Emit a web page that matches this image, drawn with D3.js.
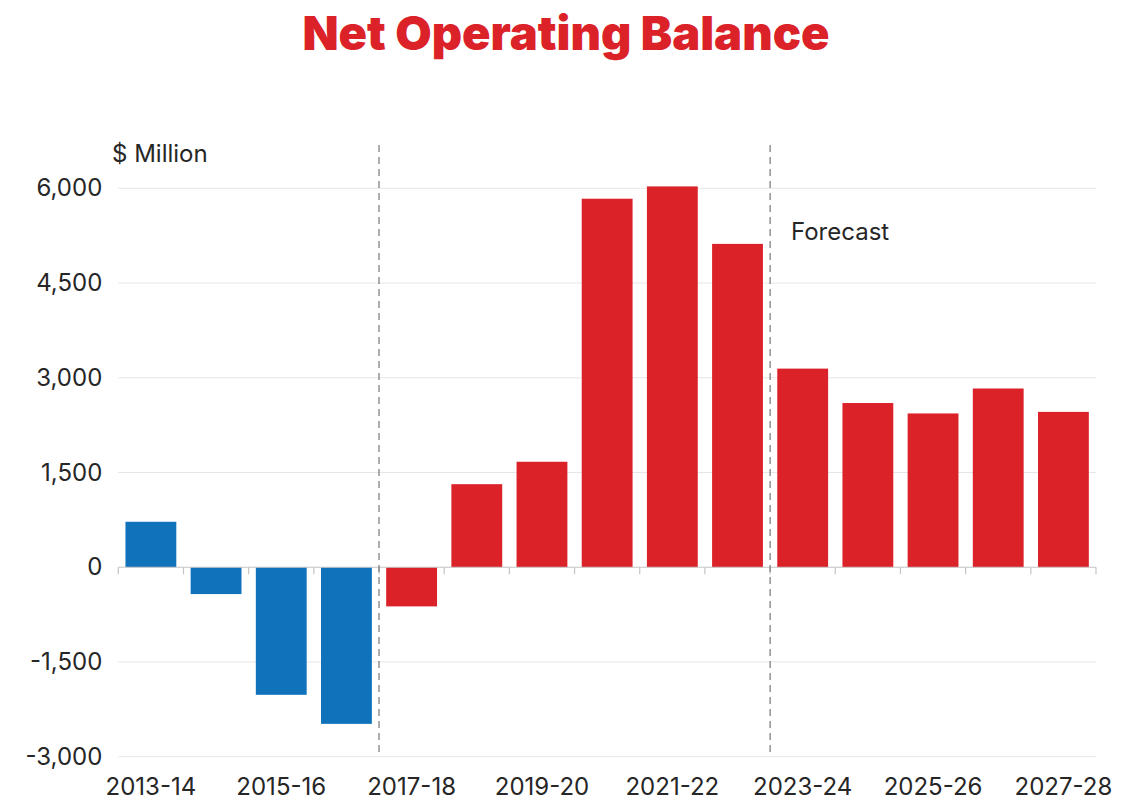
<!DOCTYPE html>
<html>
<head>
<meta charset="utf-8">
<script src="https://cdn.jsdelivr.net/npm/d3@7"></script>
<style>
  body { margin: 0; background: #fff; }
  svg text { font-family: "Inter", "Open Sans", sans-serif; fill: #262626; }
</style>
</head>
<body>
<div id="chart"></div>
<script>
// Financial years
const years = ['2013-14', '2014-15', '2015-16', '2016-17', '2017-18', '2018-19', '2019-20',
  '2020-21', '2021-22', '2022-23', '2023-24', '2024-25', '2025-26', '2026-27', '2027-28'];

// Net operating balance, $ million
const balance = [720, -425, -2020, -2480, -620, 1315, 1670,
  5835, 6030, 5120, 3145, 2600, 2435, 2830, 2460];

// Labelled years on the x axis
const yearLabels = ['2013-14', '2015-16', '2017-18', '2019-20', '2021-22', '2023-24', '2025-26', '2027-28'];

// Y axis ticks
const yTicks = [-3000, -1500, 0, 1500, 3000, 4500, 6000];

// Dashed dividers sit at the left edge of these years
const dividers = ['2017-18', '2023-24'];

const width = 1122;
const height = 801;
const margin = { top: 188.3, right: 26, bottom: 44.3, left: 118.3 };

const svg = d3.select('#chart')
  .append('svg')
  .attr('width', width)
  .attr('height', height);

const x = d3.scaleBand()
  .domain(years)
  .range([margin.left, width - margin.right])
  .paddingInner(0.22)
  .paddingOuter(0.11);

const y = d3.scaleLinear()
  .domain([-3000, 6000])
  .range([height - margin.bottom, margin.top]);

// Title
svg.append('text')
  .attr('x', 566)
  .attr('y', 50)
  .attr('text-anchor', 'middle')
  .style('font-size', '47px')
  .style('font-weight', 900)
  .style('fill', '#dc2229')
  .text('Net Operating Balance');

// Gridlines
svg.append('g')
  .selectAll('line')
  .data(yTicks.filter(d => d !== 0))
  .join('line')
  .attr('x1', margin.left)
  .attr('x2', width - margin.right)
  .attr('y1', d => y(d))
  .attr('y2', d => y(d))
  .attr('stroke', '#e6e6e6')
  .attr('stroke-width', 1);

// Y axis labels (plain hyphen for negatives, like the original)
const fmt = d3.format(',');
const yAxis = svg.append('g')
  .attr('transform', `translate(${margin.left},0)`)
  .call(d3.axisLeft(y).tickValues(yTicks).tickFormat(d => fmt(d).replace('\u2212', '-')).tickSize(0).tickPadding(16));
yAxis.select('.domain').remove();
yAxis.selectAll('text')
  .style('font-size', '24px')
  .style('fill', '#262626');

// Unit label
svg.append('text')
  .attr('x', 112)
  .attr('y', 162)
  .style('font-size', '24px')
  .text('$ Million');

// Bars
const splitIndex = years.indexOf(dividers[0]);
svg.append('g')
  .selectAll('rect')
  .data(years.map((yr, i) => ({ yr, v: balance[i], i })))
  .join('rect')
  .attr('x', d => x(d.yr))
  .attr('width', x.bandwidth())
  .attr('y', d => y(Math.max(0, d.v)))
  .attr('height', d => Math.abs(y(d.v) - y(0)))
  .attr('fill', d => d.i < splitIndex ? '#1172bc' : '#dc2229');

// Zero axis with ticks at band edges
const gap = (x.step() - x.bandwidth()) / 2;
const edges = years.map(yr => x(yr) - gap).concat([x(years[years.length - 1]) + x.bandwidth() + gap]);
svg.append('line')
  .attr('x1', margin.left)
  .attr('x2', width - margin.right)
  .attr('y1', y(0))
  .attr('y2', y(0))
  .attr('stroke', '#c4c4c4')
  .attr('stroke-width', 1.2);
svg.append('g')
  .selectAll('line')
  .data(edges)
  .join('line')
  .attr('x1', d => d)
  .attr('x2', d => d)
  .attr('y1', y(0))
  .attr('y2', y(0) + 7)
  .attr('stroke', '#c4c4c4')
  .attr('stroke-width', 1.2);

// X axis labels
const xAxis = svg.append('g')
  .attr('transform', `translate(0,${height - margin.bottom})`)
  .call(d3.axisBottom(x).tickValues(yearLabels).tickSize(0).tickPadding(21));
xAxis.select('.domain').remove();
xAxis.selectAll('text')
  .style('font-size', '24px')
  .style('fill', '#262626');

// Dashed dividers
svg.append('g')
  .selectAll('line')
  .data(dividers)
  .join('line')
  .attr('x1', d => x(d) - gap)
  .attr('x2', d => x(d) - gap)
  .attr('y1', 145)
  .attr('y2', 752)
  .attr('stroke', '#777')
  .attr('stroke-width', 1.2)
  .attr('stroke-dasharray', '7,5');

// Forecast note
svg.append('text')
  .attr('x', 791)
  .attr('y', 240)
  .style('font-size', '24px')
  .text('Forecast');
</script>
</body>
</html>
